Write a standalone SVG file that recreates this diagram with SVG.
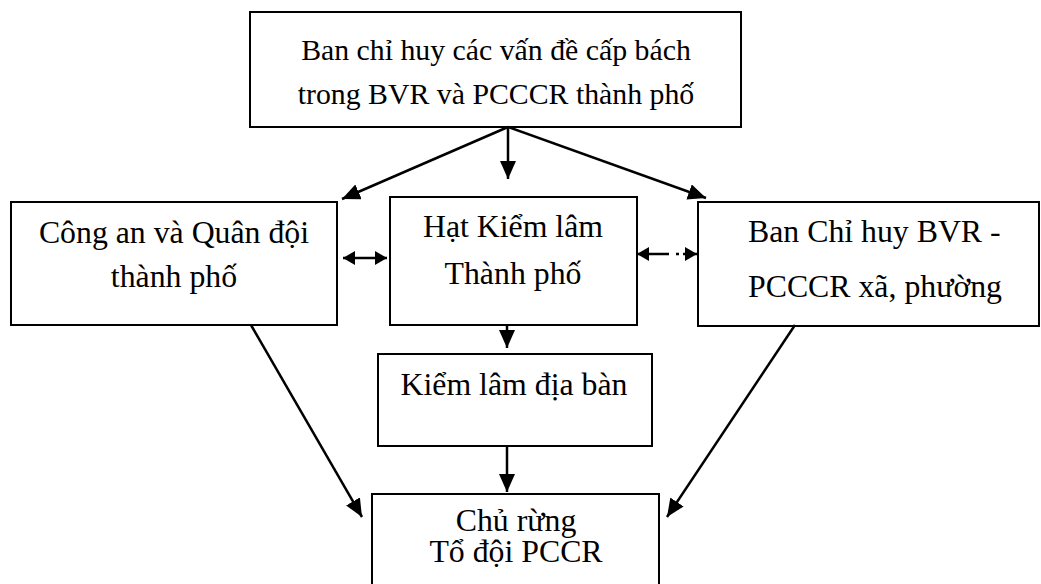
<svg xmlns="http://www.w3.org/2000/svg" width="1041" height="584" viewBox="0 0 1041 584">
  <style>
    .box { fill: #ffffff; stroke: #000000; stroke-width: 2; }
    .lbl { font-family: "Liberation Serif", "Times New Roman", serif; font-size: 31.8px; fill: #000000; }
    .top { font-size: 29.8px; }
    .c { text-anchor: middle; }
    .conn { fill: none; stroke: #000000; stroke-width: 2.5; stroke-linecap: butt; }
    .big { marker-end: url(#ah); }
    .dbl { marker-start: url(#sh); marker-end: url(#sh); }
    .sm { marker-end: url(#sh); }
  </style>
  <defs>
    <marker id="ah" markerUnits="userSpaceOnUse" markerWidth="18" markerHeight="16" refX="18" refY="8" orient="auto-start-reverse">
      <path d="M0,0 L18,8 L0,16 Z" fill="#000000"/>
    </marker>
    <marker id="sh" markerUnits="userSpaceOnUse" markerWidth="12" markerHeight="14" refX="12" refY="7" orient="auto-start-reverse">
      <path d="M0,0 L12,7 L0,14 Z" fill="#000000"/>
    </marker>
  </defs>
  <rect width="1041" height="584" fill="#ffffff"/>

  <g id="node-top">
    <rect class="box" x="250" y="12" width="491" height="115"/>
    <text class="lbl top c" x="496" y="60">Ban chỉ huy các vấn đề cấp bách</text>
    <text class="lbl top c" x="496" y="104">trong BVR và PCCCR thành phố</text>
  </g>
  <g id="node-congan">
    <rect class="box" x="11" y="202" width="326" height="123"/>
    <text class="lbl c" x="174" y="243">Công an và Quân đội</text>
    <text class="lbl c" x="174" y="287">thành phố</text>
  </g>
  <g id="node-hatkiemlam">
    <rect class="box" x="390" y="197" width="247" height="128"/>
    <text class="lbl c" x="513" y="237">Hạt Kiểm lâm</text>
    <text class="lbl c" x="513" y="284">Thành phố</text>
  </g>
  <g id="node-banchihuy">
    <rect class="box" x="698" y="202" width="341" height="124"/>
    <text class="lbl" x="748" y="242">Ban Chỉ huy BVR -</text>
    <text class="lbl" x="748" y="297">PCCCR xã, phường</text>
  </g>
  <g id="node-kiemlamdiaban">
    <rect class="box" x="378" y="354" width="274" height="92"/>
    <text class="lbl c" x="514" y="395">Kiểm lâm địa bàn</text>
  </g>
  <g id="node-churung">
    <rect class="box" x="372" y="494" width="287" height="100"/>
    <text class="lbl c" x="516" y="531">Chủ rừng</text>
    <text class="lbl c" x="516" y="562">Tổ đội PCCR</text>
  </g>

  <g id="connectors">
    <path class="conn big" d="M508,127 L342,199"/>
    <path class="conn big" d="M508,127 L508,179"/>
    <path class="conn big" d="M508,127 L706,198"/>
    <path class="conn dbl" d="M343,258 L387,258"/>
    <path class="conn sm" d="M669,254 L637,254"/>
    <path class="conn" d="M676,254 L679,254"/>
    <path class="conn sm" d="M683,254 L697,254"/>
    <path class="conn big" d="M507,325 L507,348"/>
    <path class="conn big" d="M507,446 L507,492"/>
    <path class="conn big" d="M251,325 L362,517"/>
    <path class="conn big" d="M795,325 L667,517"/>
  </g>
</svg>
